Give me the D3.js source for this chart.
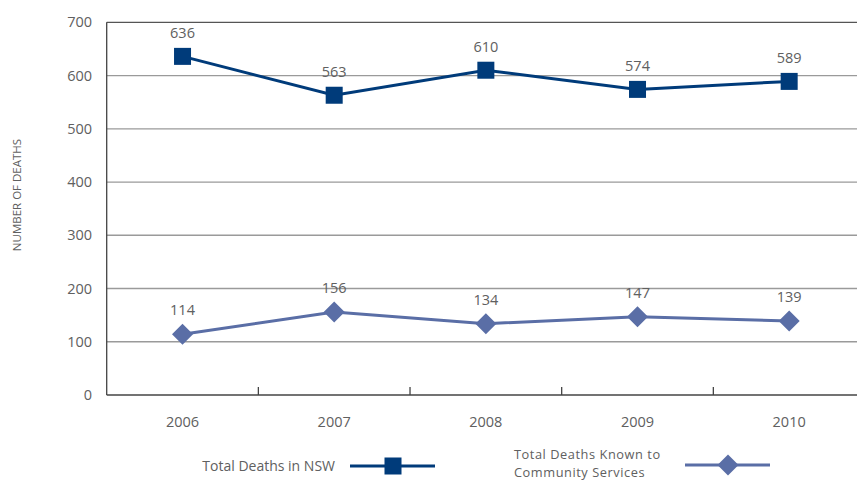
<!DOCTYPE html>
<html><head><meta charset="utf-8">
<script src="https://cdn.jsdelivr.net/npm/d3@7"></script>
<style>body{margin:0;background:#fff}svg{display:block;font-family:"Open Sans","Noto Sans",sans-serif}</style>
</head><body><svg id="c" width="857" height="480"></svg>
<script>
const years = ["2006","2007","2008","2009","2010"];
const nswDeaths = [636,563,610,574,589];
const csDeaths = [114,156,134,147,139];
const yTicks = [0,100,200,300,400,500,600,700];
const seriesNames = ["Total Deaths in NSW","Total Deaths Known to","Community Services"];

const svg = d3.select("#c");
const x = d3.scaleBand().domain(years).range([106.7,865]);
const y = d3.scaleLinear().domain([0,700]).range([395,22.3]);
const dark = "#003b7a", light = "#5a6ea6", txt = "#606060";

svg.append("g").selectAll("line").data(yTicks.filter(d=>d>0)).join("line")
  .attr("x1",106.7).attr("x2",857).attr("y1",d=>y(d)).attr("y2",d=>y(d))
  .attr("stroke",d=>d===700?"#555":"#9a9a9a").attr("stroke-width",1.3);

svg.append("g").selectAll("text").data(yTicks).join("text")
  .attr("x",92).attr("y",d=>y(d)+5).attr("text-anchor","end")
  .attr("font-size",14.5).attr("fill",txt).text(d=>d);

svg.append("line").attr("x1",106.7).attr("x2",106.7).attr("y1",y(700)).attr("y2",y(0)).attr("stroke","#444").attr("stroke-width",1.3);
svg.append("line").attr("x1",106.7).attr("x2",857).attr("y1",y(0)).attr("y2",y(0)).attr("stroke","#444").attr("stroke-width",1.3);
svg.append("g").selectAll("line").data(years.slice(1)).join("line")
  .attr("x1",d=>x(d)).attr("x2",d=>x(d)).attr("y1",y(0)-8).attr("y2",y(0))
  .attr("stroke","#444").attr("stroke-width",1.3);
svg.append("g").selectAll("text").data(years).join("text")
  .attr("x",d=>x(d)+x.bandwidth()/2).attr("y",427).attr("text-anchor","middle")
  .attr("font-size",14.5).attr("fill",txt).text(d=>d);

svg.append("text").attr("transform","translate(21,195) rotate(-90)").attr("text-anchor","middle")
  .attr("font-size",11.5).attr("fill",txt).text("NUMBER OF DEATHS");

const cx = d=>x(d)+x.bandwidth()/2;
const line = d3.line().x((d,i)=>cx(years[i])).y(d=>y(d));

svg.append("path").datum(nswDeaths).attr("d",line).attr("fill","none").attr("stroke",dark).attr("stroke-width",3);
svg.append("path").datum(csDeaths).attr("d",line).attr("fill","none").attr("stroke",light).attr("stroke-width",3);

const sq = 17, dm = 10.5;
svg.append("g").selectAll("rect").data(nswDeaths).join("rect")
  .attr("x",(d,i)=>cx(years[i])-sq/2).attr("y",d=>y(d)-sq/2).attr("width",sq).attr("height",sq).attr("fill",dark);
const diamond = (px,py)=>`M${px},${py-dm}L${px+dm},${py}L${px},${py+dm}L${px-dm},${py}Z`;
svg.append("g").selectAll("path").data(csDeaths).join("path")
  .attr("d",(d,i)=>diamond(cx(years[i]),y(d))).attr("fill",light);

svg.append("g").selectAll("text").data(nswDeaths).join("text")
  .attr("x",(d,i)=>cx(years[i])).attr("y",d=>y(d)-18).attr("text-anchor","middle")
  .attr("font-size",14.5).attr("fill",txt).text(d=>d);
svg.append("g").selectAll("text").data(csDeaths).join("text")
  .attr("x",(d,i)=>cx(years[i])).attr("y",d=>y(d)-19).attr("text-anchor","middle")
  .attr("font-size",14.5).attr("fill",txt).text(d=>d);

svg.append("text").attr("x",335).attr("y",471).attr("text-anchor","end").attr("font-size",14).attr("fill",txt).text(seriesNames[0]);
svg.append("line").attr("x1",350).attr("x2",435).attr("y1",466).attr("y2",466).attr("stroke",dark).attr("stroke-width",3);
svg.append("rect").attr("x",393-sq/2).attr("y",466-sq/2).attr("width",sq).attr("height",sq).attr("fill",dark);

svg.append("text").attr("x",514).attr("y",459).attr("font-size",12.8).attr("letter-spacing",0.55).attr("fill",txt).text(seriesNames[1]);
svg.append("text").attr("x",514).attr("y",476.6).attr("font-size",12.8).attr("letter-spacing",0.55).attr("fill",txt).text(seriesNames[2]);
svg.append("line").attr("x1",685).attr("x2",770).attr("y1",465).attr("y2",465).attr("stroke",light).attr("stroke-width",3);
svg.append("path").attr("d",diamond(728,465)).attr("fill",light);
</script></body></html>
